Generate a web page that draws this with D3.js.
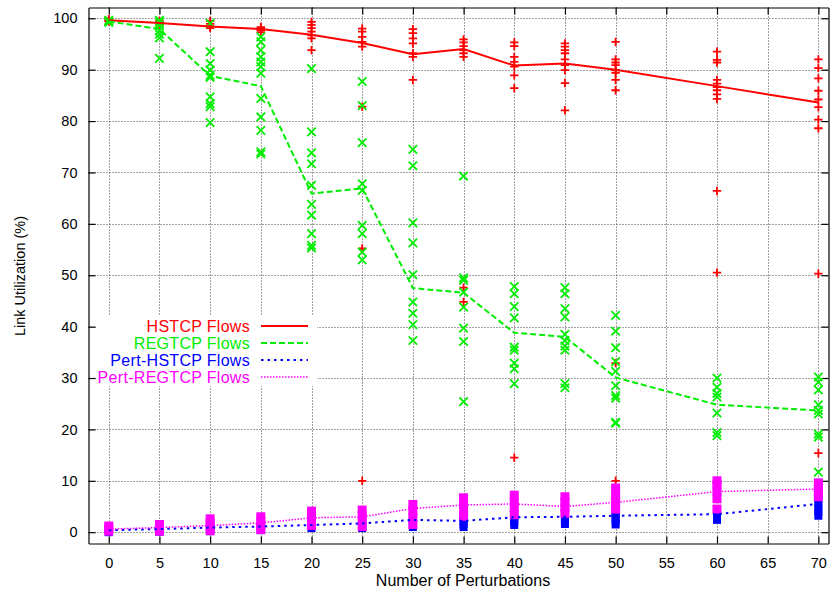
<!DOCTYPE html>
<html>
<head>
<meta charset="utf-8">
<script src="https://cdn.jsdelivr.net/npm/d3@7"></script>
<style>
  body { margin: 0; background: #fff; }
  svg { display: block; font-family: "Liberation Sans", Arial, sans-serif; }
</style>
</head>
<body>
<svg id="chart"></svg>
<script>
// data
let xCats = [0, 5, 10, 15, 20, 25, 30, 35, 40, 45, 50, 60, 70];
let xTickValues = [0, 5, 10, 15, 20, 25, 30, 35, 40, 45, 50, 55, 60, 65, 70];
let yTickValues = [0, 10, 20, 30, 40, 50, 60, 70, 80, 90, 100];

let hstcpMean = [99.6, 99.1, 98.4, 97.9, 96.8, 95.2, 93.0, 94.0, 90.8, 91.2, 90.0, 86.8, 83.6];
let regtcpMean = [99.4, 97.9, 88.8, 86.8, 65.9, 66.9, 47.5, 46.6, 38.8, 38.0, 30.1, 24.8, 23.7];
let pertHstcpMean = [0.4, 0.6, 0.9, 1.1, 1.4, 1.7, 2.4, 2.2, 2.9, 3.0, 3.2, 3.5, 5.5];
let pertRegtcpMean = [0.6, 0.9, 1.3, 1.8, 2.8, 3.0, 4.6, 5.3, 5.5, 5.0, 5.8, 7.9, 8.4];

let hstcpSamples = [
  [99.8, 99.6, 99.5, 99.4],
  [99.5, 99.2, 99.0, 98.8],
  [99.5, 98.9, 98.4, 98.1],
  [98.3, 98.0, 97.7, 97.3],
  [99.3, 98.7, 98.1, 97.4, 96.7, 96.1, 93.8],
  [98.0, 97.4, 96.4, 95.4, 94.5, 82.8, 55.2, 10.0],
  [97.9, 97.1, 96.1, 95.1, 93.2, 92.5, 88.0],
  [95.9, 95.3, 94.6, 93.8, 93.2, 92.5, 47.6, 44.8],
  [95.3, 94.6, 92.5, 91.5, 90.6, 88.9, 86.4, 14.5],
  [95.1, 94.5, 93.8, 93.2, 92.0, 90.9, 89.9, 87.4, 82.1],
  [95.4, 92.0, 91.4, 90.9, 89.9, 89.4, 88.0, 86.0, 32.9, 10.0],
  [93.5, 91.9, 91.4, 88.0, 87.3, 86.6, 86.0, 85.2, 84.3, 66.4, 50.5],
  [92.0, 90.3, 88.3, 85.9, 84.2, 82.7, 80.3, 78.6, 50.3, 15.4]
];

let regtcpSamples = [
  [99.6, 99.4, 99.2],
  [99.6, 99.2, 98.6, 97.6, 96.9, 96.2, 92.2],
  [99.0, 93.5, 91.2, 89.9, 88.9, 88.5, 84.7, 83.4, 82.8, 79.7],
  [96.4, 95.4, 93.8, 92.5, 91.5, 90.6, 89.3, 84.4, 80.8, 78.2, 74.0, 73.6],
  [90.2, 77.9, 73.8, 71.7, 67.5, 63.8, 61.7, 58.1, 55.8, 55.3],
  [87.7, 83.0, 75.8, 67.8, 66.5, 59.7, 58.1, 54.5, 53.0],
  [74.5, 71.3, 60.2, 56.3, 50.1, 44.8, 42.6, 40.4, 37.3],
  [69.3, 49.5, 49.0, 46.7, 43.8, 39.7, 37.1, 25.4],
  [47.8, 46.4, 43.9, 41.7, 36.0, 35.4, 32.9, 31.8, 28.9],
  [47.6, 46.4, 43.5, 41.9, 38.5, 37.3, 36.2, 35.4, 28.9, 28.1],
  [42.2, 39.1, 35.9, 33.2, 31.3, 28.5, 26.6, 26.1, 21.4, 21.2],
  [30.0, 28.2, 27.0, 26.3, 23.2, 19.4, 18.8],
  [30.2, 29.2, 27.7, 24.8, 23.7, 23.0, 19.1, 18.5, 11.7]
];

let pertHstcpSamples = [
  [0.0, 0.3, 0.6],
  [0.1, 0.5, 0.8],
  [0.2, 0.7, 1.1],
  [0.4, 0.9, 1.3],
  [0.8, 1.2, 1.6],
  [0.8, 1.3, 1.8],
  [1.0, 1.5, 2.2],
  [1.0, 1.6, 2.2, 2.9],
  [1.4, 2.0, 2.6, 3.2],
  [1.6, 2.2, 2.8, 3.5],
  [1.5, 2.2, 2.9, 3.6, 4.2],
  [2.4, 3.0, 3.6, 4.2],
  [3.2, 4.0, 4.8, 5.6, 6.5]
];

let pertRegtcpSamples = [
  [0.2, 0.7, 1.2],
  [0.2, 0.8, 1.5],
  [0.3, 1.0, 1.8, 2.6],
  [0.5, 1.3, 2.2, 3.0],
  [1.3, 2.3, 3.3, 4.1],
  [1.1, 2.2, 3.3, 4.3],
  [1.5, 2.8, 4.2, 5.4],
  [3.1, 4.4, 5.6, 6.7],
  [3.4, 4.8, 6.0, 7.2],
  [3.7, 4.8, 5.9, 6.9],
  [4.5, 5.8, 7.2, 8.6],
  [4.5, 6.5, 8.0, 9.2, 10.0],
  [6.9, 7.8, 8.7, 9.6]
];

let seriesNames = ['HSTCP Flows', 'REGTCP Flows', 'Pert-HSTCP Flows', 'Pert-REGTCP Flows'];
let seriesColors = ['#ff0000', '#00ee00', '#0000ff', '#ff00ff'];
let seriesDash = ['none', '6,3', '2.5,4', '1.5,1.5'];

let width = 830;
let height = 597;
let plotLeft = 88.5, plotRight = 828.5, plotTop = 7.5, plotBottom = 543.5;

let svg = d3.select('#chart')
  .attr('width', width)
  .attr('height', height);

let x = d3.scaleLinear().domain([-2, 71]).range([plotLeft, plotRight]);
let y = d3.scaleLinear().domain([-2.2, 102.1]).range([plotBottom, plotTop]);

// grid
let grid = svg.append('g')
  .attr('stroke', '#444')
  .attr('stroke-width', 1)
  .attr('stroke-dasharray', '1,2');

grid.selectAll('line.gy')
  .data(yTickValues)
  .enter()
  .append('line')
  .attr('class', 'gy')
  .attr('x1', plotLeft).attr('x2', plotRight)
  .attr('y1', d => Math.round(y(d)) + 0.5)
  .attr('y2', d => Math.round(y(d)) + 0.5);

grid.selectAll('line.gx')
  .data(xTickValues)
  .enter()
  .append('line')
  .attr('class', 'gx')
  .attr('y1', plotTop).attr('y2', plotBottom)
  .attr('x1', d => Math.round(x(d)) + 0.5)
  .attr('x2', d => Math.round(x(d)) + 0.5);

// legend box hides the grid behind it
svg.append('rect')
  .attr('x', 97).attr('y', 316)
  .attr('width', 220).attr('height', 70)
  .attr('fill', '#fff');

// axes, ticks pointing inward like gnuplot
let tickFont = 14.5;

svg.append('g')
  .attr('transform', `translate(0,${plotBottom})`)
  .call(d3.axisBottom(x).tickValues(xTickValues).tickSize(-7).tickSizeOuter(0).tickPadding(14));

svg.append('g')
  .attr('transform', `translate(${plotLeft},0)`)
  .call(d3.axisLeft(y).tickValues(yTickValues).tickSize(-7).tickSizeOuter(0).tickPadding(11));

svg.append('g')
  .attr('transform', `translate(0,${plotTop})`)
  .call(d3.axisTop(x).tickValues(xTickValues).tickSize(-7).tickSizeOuter(0).tickFormat(''));

svg.append('g')
  .attr('transform', `translate(${plotRight},0)`)
  .call(d3.axisRight(y).tickValues(yTickValues).tickSize(-7).tickSizeOuter(0).tickFormat(''));

svg.selectAll('.domain').attr('stroke', '#000').attr('stroke-width', 1.2);
svg.selectAll('.tick line').attr('stroke', '#000').attr('stroke-width', 1.2);
svg.selectAll('.tick text')
  .attr('font-size', tickFont)
  .attr('font-family', '"Liberation Sans", Arial, sans-serif')
  .attr('fill', '#000');

// axis titles
svg.append('text')
  .attr('x', 463)
  .attr('y', 586)
  .attr('text-anchor', 'middle')
  .attr('font-size', 16)
  .text('Number of Perturbations');

svg.append('text')
  .attr('transform', 'translate(25,276) rotate(-90)')
  .attr('text-anchor', 'middle')
  .attr('font-size', 14.5)
  .text('Link Utilization (%)');

// sample points
function flatten(samples) {
  let out = [];
  samples.forEach((vals, i) => {
    vals.forEach(v => out.push({ x: xCats[i], y: v }));
  });
  return out;
}

let ms = 4.2;

svg.append('g')
  .selectAll('path')
  .data(flatten(hstcpSamples))
  .enter()
  .append('path')
  .attr('d', d => `M${x(d.x) - ms},${y(d.y)}H${x(d.x) + ms}M${x(d.x)},${y(d.y) - ms}V${y(d.y) + ms}`)
  .attr('stroke', seriesColors[0])
  .attr('stroke-width', 1.8)
  .attr('fill', 'none');

svg.append('g')
  .selectAll('path')
  .data(flatten(regtcpSamples))
  .enter()
  .append('path')
  .attr('d', d => `M${x(d.x) - ms},${y(d.y) - ms}L${x(d.x) + ms},${y(d.y) + ms}M${x(d.x) - ms},${y(d.y) + ms}L${x(d.x) + ms},${y(d.y) - ms}`)
  .attr('stroke', seriesColors[1])
  .attr('stroke-width', 1.8)
  .attr('fill', 'none');

let sq = 9;

// Pert-HSTCP drawn first, Pert-REGTCP on top (legend order)
svg.append('g')
  .selectAll('rect')
  .data(flatten(pertHstcpSamples))
  .enter()
  .append('rect')
  .attr('x', d => x(d.x) - sq / 2 + 0.5)
  .attr('y', d => y(d.y) - sq / 2 + 0.5)
  .attr('width', sq - 1)
  .attr('height', sq - 1)
  .attr('fill', seriesColors[2]);

svg.append('g')
  .selectAll('rect')
  .data(flatten(pertRegtcpSamples))
  .enter()
  .append('rect')
  .attr('x', d => x(d.x) - sq / 2)
  .attr('y', d => y(d.y) - sq / 2)
  .attr('width', sq)
  .attr('height', sq)
  .attr('fill', seriesColors[3]);

// mean lines
let means = [hstcpMean, regtcpMean, pertHstcpMean, pertRegtcpMean];
let line = d3.line()
  .x((d, i) => x(xCats[i]))
  .y(d => y(d));

svg.append('g')
  .selectAll('path')
  .data(means)
  .enter()
  .append('path')
  .attr('d', d => line(d))
  .attr('fill', 'none')
  .attr('stroke', (d, i) => seriesColors[i])
  .attr('stroke-width', (d, i) => i === 3 ? 1.5 : 2)
  .attr('stroke-dasharray', (d, i) => seriesDash[i]);

// legend
let legend = svg.append('g');
let rowY = [326, 343, 360, 377];

legend.selectAll('text')
  .data(seriesNames)
  .enter()
  .append('text')
  .attr('x', 250)
  .attr('y', (d, i) => rowY[i])
  .attr('dy', '0.36em')
  .attr('text-anchor', 'end')
  .attr('font-size', 16)
  .attr('letter-spacing', 0.3)
  .attr('fill', (d, i) => seriesColors[i])
  .text(d => d);

legend.selectAll('line')
  .data(seriesNames)
  .enter()
  .append('line')
  .attr('x1', 261).attr('x2', 308)
  .attr('y1', (d, i) => rowY[i])
  .attr('y2', (d, i) => rowY[i])
  .attr('stroke', (d, i) => seriesColors[i])
  .attr('stroke-width', (d, i) => i === 3 ? 1.5 : 2)
  .attr('stroke-dasharray', (d, i) => seriesDash[i]);
</script>
</body>
</html>
